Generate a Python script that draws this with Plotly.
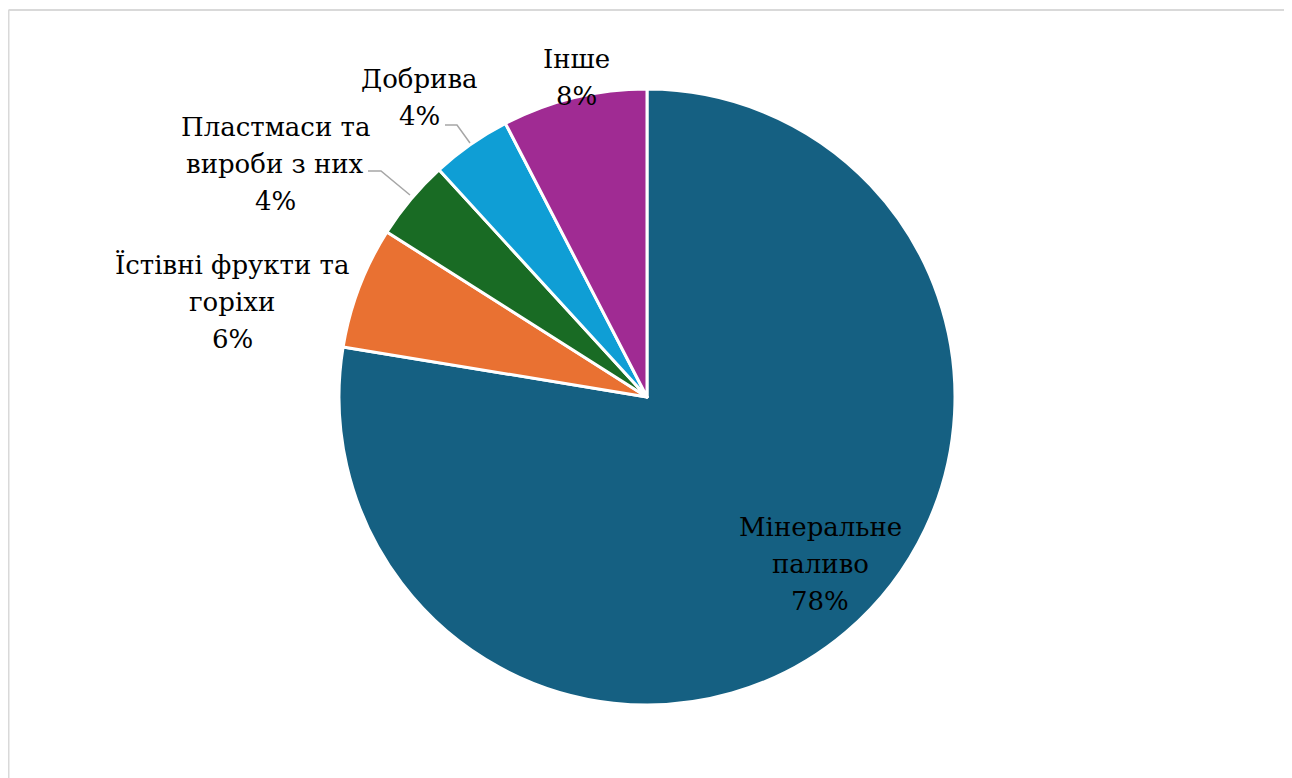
import plotly.graph_objects as go

# ---- data ----
categories = ["Мінеральне паливо", "Їстівні фрукти та горіхи", "Пластмаси та вироби з них", "Добрива", "Інше"]
label_lines = [["Мінеральне", "паливо"], ["Їстівні фрукти та", "горіхи"], ["Пластмаси та", "вироби з них"], ["Добрива"], ["Інше"]]
values = [77.6, 6.4, 4.2, 4.2, 7.6]
colors = ["#156082", "#E97132", "#196B24", "#0F9ED5", "#A02B93"]

W, H = 1292, 778
OFF = 8  # page body offset
FONT = "DejaVu Serif"
FS = 26
LINE = 37

# label block positions in pixels (center x, first line center y)
label_pos = [(820, 527), (232, 265), (275, 127), (419, 79), (576, 59)]

def px(x):
    return (x - OFF) / W

def py(y):
    return 1 - (y - OFF) / H

cx, cy, r = 647, 397, 308

fig = go.Figure(go.Pie(
    labels=categories,
    values=values,
    sort=False,
    direction="clockwise",
    rotation=0,
    textinfo="none",
    hoverinfo="label+percent",
    marker=dict(colors=colors, line=dict(color="white", width=3)),
    domain=dict(x=[px(cx - r), px(cx + r)], y=[py(cy + r), py(cy - r)]),
    showlegend=False,
))

annotations = []
total = sum(values)
for lines, v, (x0, y0) in zip(label_lines, values, label_pos):
    all_lines = lines + [f"{round(v / total * 100)}%"]
    for i, t in enumerate(all_lines):
        annotations.append(dict(
            x=px(x0), y=py(y0 + i * LINE), xref="paper", yref="paper",
            text=t, showarrow=False, xanchor="center", yanchor="middle",
            font=dict(family=FONT, size=FS, color="#000000"),
        ))

frame = dict(color="#d9d9d9", width=2)
shapes = [
    dict(type="line", xref="paper", yref="paper", x0=px(8.5), x1=px(8.5), y0=py(10), y1=py(800), line=frame),
    dict(type="line", xref="paper", yref="paper", x0=px(1286), x1=px(1286), y0=py(10), y1=py(800), line=frame),
    dict(type="line", xref="paper", yref="paper", x0=px(8.5), x1=px(1286), y0=py(10), y1=py(10), line=frame),
    # leader lines
    dict(type="path", xref="paper", yref="paper",
         path=f"M {px(368)} {py(171)} L {px(381)} {py(171)} L {px(410)} {py(195)}",
         line=dict(color="#a6a6a6", width=1.5)),
    dict(type="path", xref="paper", yref="paper",
         path=f"M {px(445)} {py(125)} L {px(457)} {py(125)} L {px(470)} {py(143)}",
         line=dict(color="#a6a6a6", width=1.5)),
]

fig.update_layout(
    width=W, height=H,
    margin=dict(l=0, r=0, t=0, b=0),
    paper_bgcolor="white",
    plot_bgcolor="white",
    annotations=annotations,
    shapes=shapes,
)

fig.write_html("out.html")
